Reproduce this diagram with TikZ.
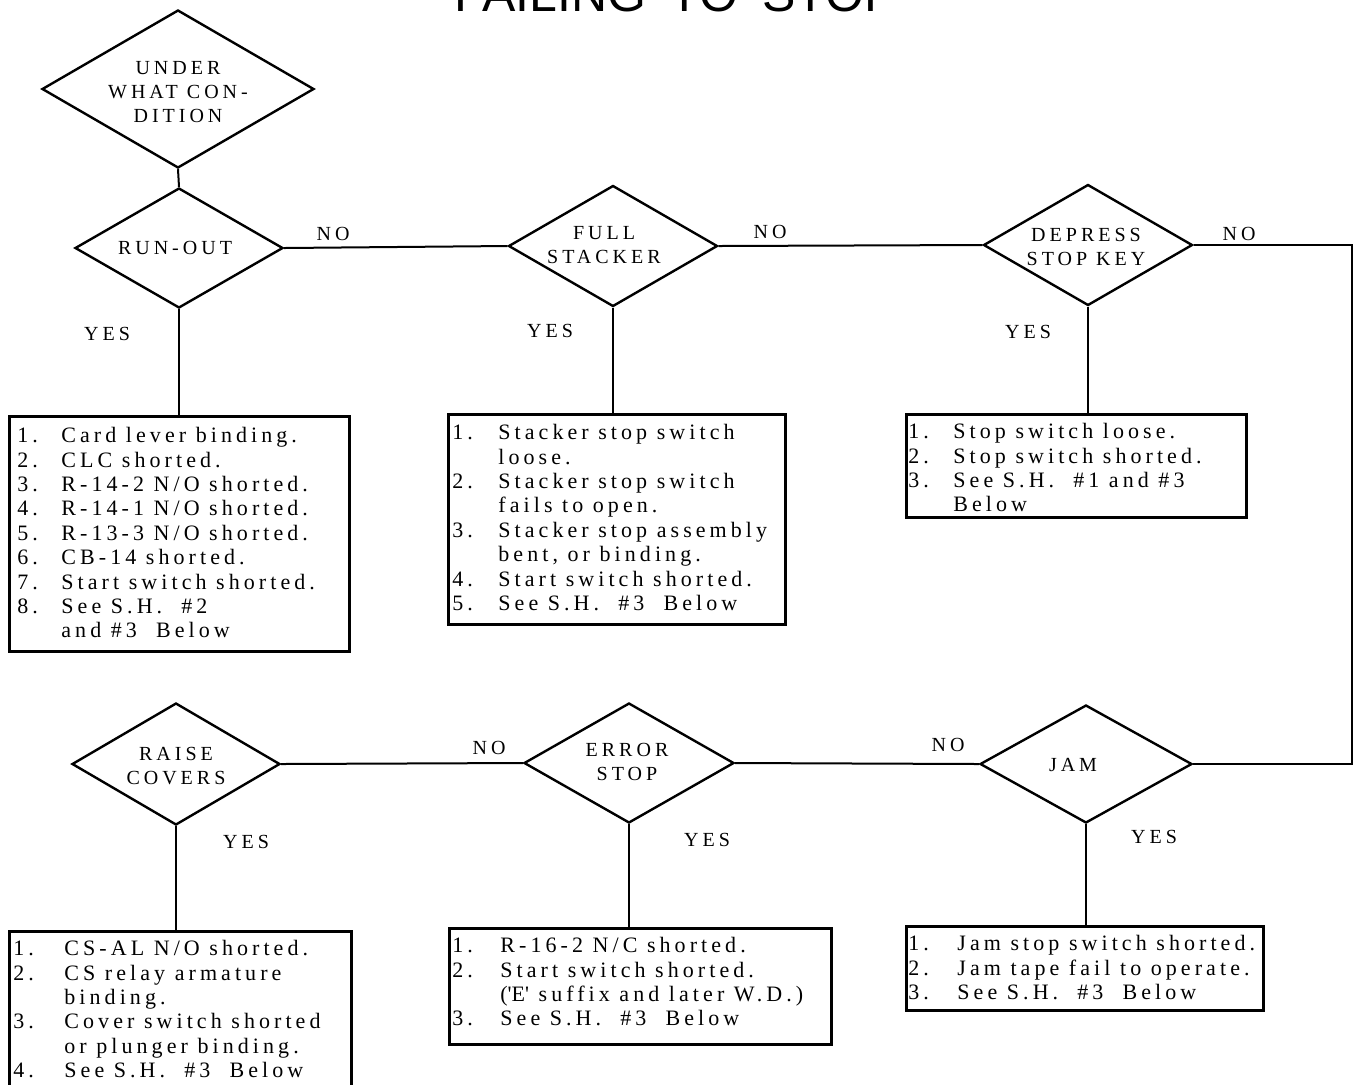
\documentclass[tikz,border=0pt]{standalone}
\usepackage{fontspec}
\setmainfont{Liberation Serif}
\newfontfamily\boxfnt[LetterSpace=18.5]{Liberation Serif}
\newfontfamily\diafnt[LetterSpace=20]{Liberation Serif}
\newfontfamily\titlefnt{Liberation Sans}
\usetikzlibrary{shapes.geometric,calc}
\newlength{\numw}
\newcommand{\itm}[2]{\makebox[\numw][l]{#1}#2}
\newcommand{\setnum}[1]{\global\numw=#1\relax}
\tikzset{
  dia/.style={diamond, draw, line width=1.2pt, inner sep=0pt},
  boxst/.style={draw, line width=1.4pt, inner sep=0pt, anchor=north west},
  lst/.style={anchor=north west, inner sep=0pt, align=left,
    font=\boxfnt\fontsize{11pt}{12.2pt}\selectfont},
  dtx/.style={align=center, inner sep=0pt,
    font=\diafnt\fontsize{10pt}{12pt}\selectfont},
  lbl/.style={inner sep=0pt, font=\diafnt\fontsize{10pt}{12pt}\selectfont},
  conn/.style={line width=1pt},
}
\begin{document}
\begin{tikzpicture}[x=0.5pt,y=-0.5pt]
\useasboundingbox (0,0) rectangle (1354,1084);
% title (cut at top)
\node[anchor=base, inner sep=0pt, font=\titlefnt\fontsize{25pt}{30pt}\selectfont] (title) at (676,11) {FAILING\hspace{5pt} TO\hspace{5pt} STOP};

% diamonds
\node[dia, minimum width=136pt, minimum height=79pt] (d0) at (178,89) {};
\node[dtx] (d0t) at (178,92) {UNDER\\WHAT CON-\\DITION};
\node[dia, minimum width=104pt, minimum height=60pt] (d1) at (179,248) {};
\node[dtx] (d1t) at (175,248) {RUN-OUT};
\node[dia, minimum width=104.5pt, minimum height=60.5pt] (d2) at (613,246) {};
\node[dtx] (d2t) at (604,245) {FULL\\STACKER};
\node[dia, minimum width=104.5pt, minimum height=60.5pt] (d3) at (1088,245) {};
\node[dtx] (d3t) at (1086,247) {DEPRESS\\STOP KEY};
\node[dia, minimum width=104pt, minimum height=61pt] (d4) at (176,764) {};
\node[dtx] (d4t) at (176,766) {RAISE\\COVERS};
\node[dia, minimum width=105pt, minimum height=60pt] (d5) at (629,763) {};
\node[dtx] (d5t) at (627,762) {ERROR\\STOP};
\node[dia, minimum width=106pt, minimum height=59pt] (d6) at (1086,764) {};
\node[dtx] (d6t) at (1073,765) {JAM};

% boxes
\node[boxst, minimum width=170pt, minimum height=117.5pt] (b1) at (8,415) {};
\setnum{22pt}
\node[lst] (t1) at ($(b1.north west)+(9,12)$) {%
\itm{1.}{Card lever binding.}\\
\itm{2.}{CLC shorted.}\\
\itm{3.}{R-14-2 N/O shorted.}\\
\itm{4.}{R-14-1 N/O shorted.}\\
\itm{5.}{R-13-3 N/O shorted.}\\
\itm{6.}{CB-14 shorted.}\\
\itm{7.}{Start switch shorted.}\\
\itm{8.}{See S.H.\ \ \#2}\\
\itm{}{and \#3\ \ Below}};

\node[boxst, minimum width=168.5pt, minimum height=105pt] (b2) at (447,413) {};
\setnum{23pt}
\node[lst] (t2) at ($(b2.north west)+(5,11)$) {%
\itm{1.}{Stacker stop switch}\\
\itm{}{loose.}\\
\itm{2.}{Stacker stop switch}\\
\itm{}{fails to open.}\\
\itm{3.}{Stacker stop assembly}\\
\itm{}{bent, or binding.}\\
\itm{4.}{Start switch shorted.}\\
\itm{5.}{See S.H.\ \ \#3\ \ Below}};

\node[boxst, minimum width=170pt, minimum height=51.5pt] (b3) at (905,413) {};
\setnum{22.5pt}
\node[lst] (t3) at ($(b3.north west)+(3,10)$) {%
\itm{1.}{Stop switch loose.}\\
\itm{2.}{Stop switch shorted.}\\
\itm{3.}{See S.H.\ \ \#1 and \#3}\\
\itm{}{Below}};

\node[boxst, minimum width=171pt, minimum height=90pt] (b4) at (8,930) {};
\setnum{25.5pt}
\node[lst] (t4) at ($(b4.north west)+(5,10)$) {%
\itm{1.}{CS-AL N/O shorted.}\\
\itm{2.}{CS relay armature}\\
\itm{}{binding.}\\
\itm{3.}{Cover switch shorted}\\
\itm{}{or plunger binding.}\\
\itm{4.}{See S.H.\ \ \#3\ \ Below}};

\node[boxst, minimum width=191pt, minimum height=58pt] (b5) at (448,927) {};
\setnum{24pt}
\node[lst] (t5) at ($(b5.north west)+(4,10)$) {%
\itm{1.}{R-16-2 N/C shorted.}\\
\itm{2.}{Start switch shorted.}\\
\itm{}{(\textquotesingle E\textquotesingle\ suffix and later W.D.)}\\
\itm{3.}{See S.H.\ \ \#3\ \ Below}};

\node[boxst, minimum width=178.5pt, minimum height=42pt] (b6) at (905,925) {};
\setnum{24.5pt}
\node[lst] (t6) at ($(b6.north west)+(3,10)$) {%
\itm{1.}{Jam stop switch shorted.}\\
\itm{2.}{Jam tape fail to operate.}\\
\itm{3.}{See S.H.\ \ \#3\ \ Below}};

% connectors
\draw[conn] (d0.south) -- (d1.north);
\draw[conn] (d1.east) -- (d2.west);
\draw[conn] (d2.east) -- (d3.west);
\coordinate (c1) at (1352,245);
\coordinate (c2) at (1352,764);
\draw[conn] (d3.east) -- (c1) -- (c2) -- (d6.east);
\draw[conn] (d6.west) -- (d5.east);
\draw[conn] (d5.west) -- (d4.east);
\draw[conn] (d1.south) -- (d1.south |- b1.north);
\draw[conn] (d2.south) -- (d2.south |- b2.north);
\draw[conn] (d3.south) -- (d3.south |- b3.north);
\draw[conn] (d4.south) -- (d4.south |- b4.north);
\draw[conn] (d5.south) -- (d5.south |- b5.north);
\draw[conn] (d6.south) -- (d6.south |- b6.north);

% labels
\node[lbl] (n1) at (333,234) {NO};
\node[lbl] (n2) at (770,232) {NO};
\node[lbl] (n3) at (1239,234) {NO};
\node[lbl] (n4) at (948,745) {NO};
\node[lbl] (n5) at (489,748) {NO};
\node[lbl] (y1) at (107,334) {YES};
\node[lbl] (y2) at (550,331) {YES};
\node[lbl] (y3) at (1028,332) {YES};
\node[lbl] (y4) at (246,842) {YES};
\node[lbl] (y5) at (707,840) {YES};
\node[lbl] (y6) at (1154,837) {YES};
\end{tikzpicture}
\end{document}
